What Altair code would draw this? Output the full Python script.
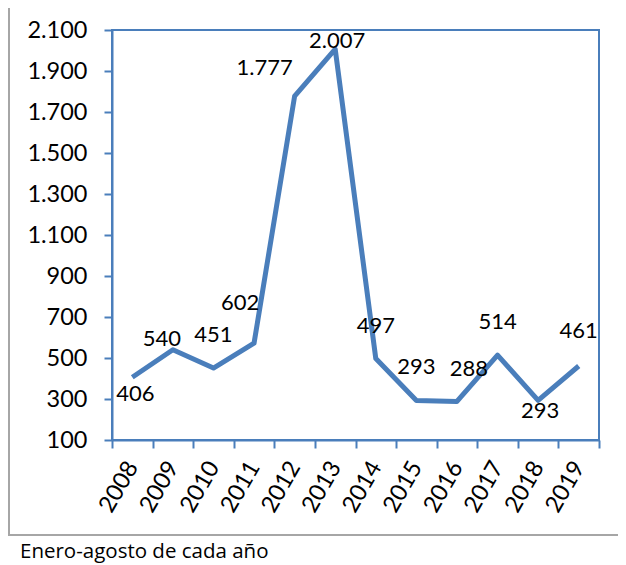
import altair as alt
import pandas as pd

years = [2008, 2009, 2010, 2011, 2012, 2013, 2014, 2015, 2016, 2017, 2018, 2019]
values = [406, 540, 451, 572, 1777, 2007, 497, 293, 288, 514, 293, 461]
labels = ["406", "540", "451", "602", "1.777", "2.007", "497", "293", "288", "514", "293", "461"]
y_ticks = [100, 300, 500, 700, 900, 1100, 1300, 1500, 1700, 1900, 2100]
caption = "Enero-agosto de cada año"

df = pd.DataFrame({"year": years, "value": values, "label": labels})

BLUE = "#4a7ebb"
FONT = "Lato"
FS = 22
AFS = 23.5

x_edges = [y - 0.5 for y in years] + [years[-1] + 0.5]
xscale = alt.Scale(domain=[years[0] - 0.5, years[-1] + 0.5], nice=False, zero=False)
yscale = alt.Scale(domain=[y_ticks[0], y_ticks[-1]], nice=False, zero=False)

yaxis = alt.Axis(values=y_ticks, labelExpr="replace(format(datum.value, ','), ',', '.')",
                 title=None, grid=False, domainColor=BLUE, domainWidth=2, tickColor=BLUE,
                 tickWidth=2, tickSize=8, labelFontSize=AFS, labelFont=FONT, labelColor="black",
                 labelPadding=17)
Y = alt.Y("value:Q", scale=yscale, axis=yaxis)

line = alt.Chart(df).mark_line(color=BLUE, strokeWidth=5, strokeJoin="round").encode(
    x=alt.X("year:Q", scale=xscale,
            axis=alt.Axis(values=x_edges, labels=False, title=None, grid=False, orient="bottom",
                          domainColor=BLUE, domainWidth=2, tickColor=BLUE, tickWidth=2, tickSize=8)),
    y=Y,
)

xlab = alt.Chart(df).mark_point(opacity=0).encode(
    x=alt.X("year:Q", scale=xscale,
            axis=alt.Axis(values=years, format="d", labelAngle=300, labelAlign="right",
                          labelBaseline="middle", ticks=False, tickSize=0, domain=False,
                          orient="bottom", offset=0,
                          labelPadding=23, labelFontSize=AFS, labelFont=FONT, labelColor="black",
                          title=None, grid=False, labelOverlap=False, labelBound=False,
                          labelFlush=False)),
    y=Y,
)

# per-label placement offsets (dx, dy) as in the original chart
offsets = {2008: (3, 17), 2009: (-11, -11), 2010: (0, -33), 2011: (-14, -40),
           2012: (-30, -28), 2013: (2, -8), 2014: (0, -33), 2015: (0, -33),
           2016: (12, -32), 2017: (0, -33), 2018: (2, 11), 2019: (0, -35)}

text_layers = []
for yr, (dx, dy) in offsets.items():
    text_layers.append(
        alt.Chart(df).transform_filter(alt.datum.year == yr).mark_text(
            dx=dx, dy=dy, fontSize=FS, font=FONT, color="black", align="center", baseline="middle"
        ).encode(
            x=alt.X("year:Q", scale=xscale, axis=None),
            y=Y,
            text="label:N",
        )
    )

one = pd.DataFrame({"k": [0]})
frame = alt.Chart(one).mark_rect(fillOpacity=0, stroke="#a6a6a6", strokeWidth=2).encode(
    x=alt.value(-103), x2=alt.value(530), y=alt.value(-29), y2=alt.value(505)
)
cap = alt.Chart(one).mark_text(align="left", baseline="alphabetic", fontSize=20.5, font="Open Sans",
                               color="black").encode(
    x=alt.value(-92), y=alt.value(528), text=alt.value(caption)
)

chart = alt.layer(line, xlab, *text_layers, frame, cap).resolve_axis(x="independent").properties(
    width=487, height=410, autosize="none",
    padding={"left": 104, "top": 22, "right": 19, "bottom": 124},
).configure_view(stroke=BLUE, strokeWidth=2)

chart.save("out.html", embed_options={"renderer": "svg", "actions": False})
